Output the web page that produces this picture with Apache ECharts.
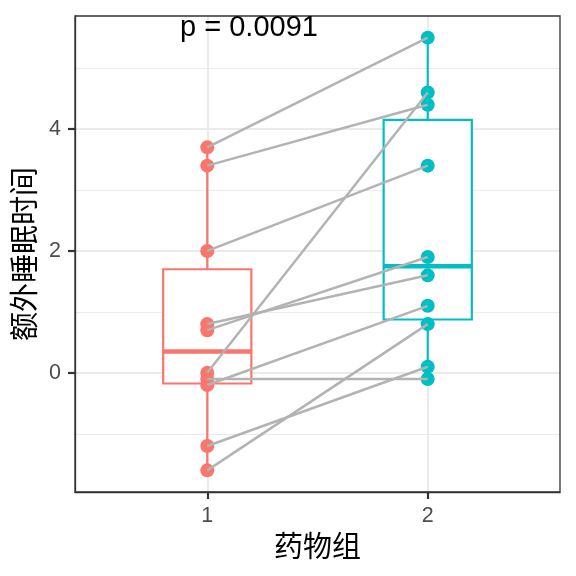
<!DOCTYPE html>
<html><head><meta charset="utf-8">
<script src="https://cdn.jsdelivr.net/npm/echarts@6/dist/echarts.min.js"></script>
<style>html,body{margin:0;padding:0;background:#fff}#c{width:576px;height:576px}</style>
</head><body><div id="c"></div>
<script>
const groups = [1, 2];
const groupColors = ['#F8766D', '#00BFC4'];
const drug1 = [0.7, -1.6, -0.2, -1.2, -0.1, 3.4, 3.7, 0.8, 0.0, 2.0];
const drug2 = [1.9, 0.8, 1.1, 0.1, -0.1, 4.4, 5.5, 1.6, 4.6, 3.4];
const yTicks = [0, 2, 4];
const yMinor = [-1, 1, 3, 5];
const pLabel = 'p = 0.0091';

function quant(arr, p) {
  const s = arr.slice().sort((a, b) => a - b);
  const h = (s.length - 1) * p, lo = Math.floor(h), hi = Math.ceil(h);
  return s[lo] + (h - lo) * (s[hi] - s[lo]);
}
function boxStats(arr, x) {
  const q1 = quant(arr, 0.25), med = quant(arr, 0.5), q3 = quant(arr, 0.75);
  const iqr = q3 - q1;
  const inside = arr.filter(v => v >= q1 - 1.5 * iqr && v <= q3 + 1.5 * iqr);
  return [x, Math.min(...inside), q1, med, q3, Math.max(...inside)];
}
const boxData = [boxStats(drug1, 1), boxStats(drug2, 2)];

const chart = echarts.init(document.getElementById('c'), null, {renderer: 'canvas'});
const axisLabelStyle = {color: '#4d4d4d', fontSize: 21.5, fontFamily: 'Liberation Sans'};
const series = [];
series.push({
  type: 'custom', z: 2, silent: true,
  data: boxData,
  renderItem: function (params, api) {
    const i = params.dataIndex;
    const x = api.value(0);
    const half = 0.2;
    const pMin = api.coord([x, api.value(1)]);
    const pQ1L = api.coord([x - half, api.value(2)]);
    const pQ3R = api.coord([x + half, api.value(4)]);
    const pMedL = api.coord([x - half, api.value(3)]);
    const pMedR = api.coord([x + half, api.value(3)]);
    const pMax = api.coord([x, api.value(5)]);
    const pQ1 = api.coord([x, api.value(2)]);
    const pQ3 = api.coord([x, api.value(4)]);
    const col = groupColors[i];
    return {type: 'group', children: [
      {type: 'line', shape: {x1: pMin[0], y1: pMin[1], x2: pQ1[0], y2: pQ1[1]}, style: {stroke: col, lineWidth: 2.2}},
      {type: 'line', shape: {x1: pMax[0], y1: pMax[1], x2: pQ3[0], y2: pQ3[1]}, style: {stroke: col, lineWidth: 2.2}},
      {type: 'rect', shape: {x: pQ1L[0], y: pQ3R[1], width: pQ3R[0] - pQ1L[0], height: pQ1L[1] - pQ3R[1]}, style: {fill: '#fff', stroke: col, lineWidth: 2.2}},
      {type: 'line', shape: {x1: pMedL[0], y1: pMedL[1], x2: pMedR[0], y2: pMedR[1]}, style: {stroke: col, lineWidth: 4.5}}
    ]};
  }
});
[drug1, drug2].forEach((arr, gi) => {
  series.push({
    type: 'scatter', z: 3, silent: true, symbolSize: 14,
    itemStyle: {color: groupColors[gi], opacity: 1},
    data: arr.map(v => [groups[gi], v])
  });
});
drug1.forEach((v, i) => {
  series.push({
    type: 'line', z: 4, silent: true, symbol: 'none',
    lineStyle: {color: '#b3b3b3', width: 2.5},
    data: [[groups[0], v], [groups[1], drug2[i]]]
  });
});

chart.setOption({
  animation: false,
  backgroundColor: '#fff',
  grid: {left: 75, top: 16, width: 485, height: 476, show: true, borderColor: '#333333', borderWidth: 1.3, backgroundColor: 'transparent', z: 10},
  graphic: [{type: 'text', x: 249, y: 28, z: 100, style: {text: pLabel, fontSize: 29, fontFamily: 'Liberation Sans', fill: '#000', textAlign: 'center', textVerticalAlign: 'middle'}}],
  xAxis: [{
    type: 'value', min: 0.4, max: 2.6,
    name: '药物组', nameLocation: 'middle', nameGap: 39,
    nameTextStyle: {fontSize: 29, color: '#000', fontFamily: 'Noto Sans CJK SC'},
    axisLine: {show: true, onZero: false, lineStyle: {color: '#333', width: 1.3}},
    axisTick: {show: true, length: 7, lineStyle: {color: '#333', width: 2.2}, customValues: groups},
    axisLabel: Object.assign({customValues: groups, margin: 13}, axisLabelStyle),
    splitLine: {show: true, lineStyle: {color: '#ebebeb', width: 2}}
  }],
  yAxis: [{
    type: 'value', min: -1.955, max: 5.855,
    name: '额外睡眠时间', nameLocation: 'middle', nameGap: 34,
    nameTextStyle: {fontSize: 29, color: '#000', fontFamily: 'Noto Sans CJK SC'},
    axisLine: {show: true, onZero: false, lineStyle: {color: '#333', width: 1.3}},
    axisTick: {show: true, length: 7, lineStyle: {color: '#333', width: 2.2}, customValues: yTicks},
    axisLabel: Object.assign({customValues: yTicks, margin: 14}, axisLabelStyle),
    splitLine: {show: true, lineStyle: {color: '#ebebeb', width: 2}}
  }, {
    type: 'value', min: -1.955, max: 5.855, position: 'left',
    axisLine: {show: false},
    axisTick: {show: false, customValues: yMinor},
    axisLabel: {show: false, customValues: yMinor},
    splitLine: {show: true, lineStyle: {color: '#ebebeb', width: 1}}
  }],
  series: series
});
</script></body></html>
